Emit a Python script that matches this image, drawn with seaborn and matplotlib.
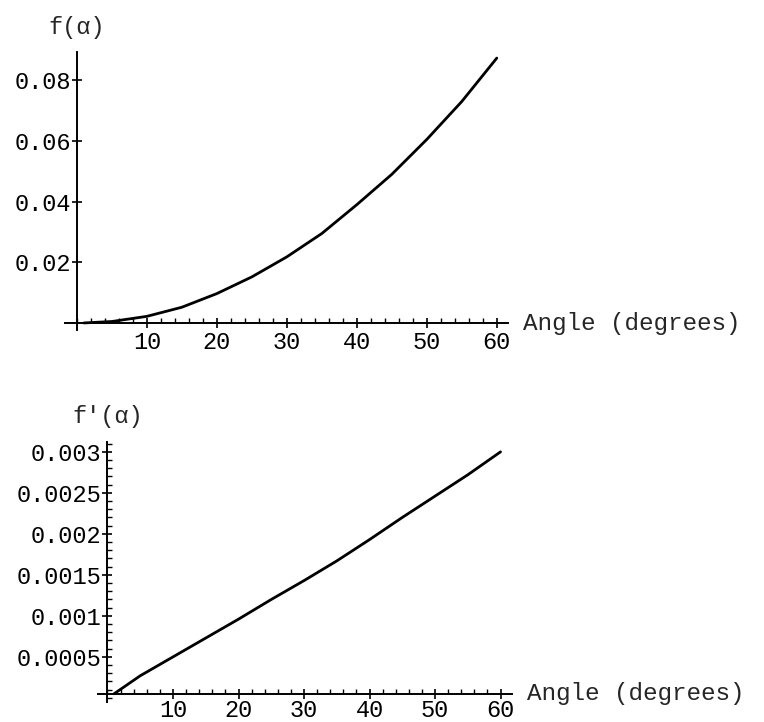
import numpy as np
import pandas as pd
import seaborn as sns
import matplotlib
matplotlib.use("Agg")
import matplotlib.pyplot as plt
from matplotlib.ticker import MultipleLocator

# ---- data ----
angle = [1, 5, 10, 15, 20, 25, 30, 35, 40, 45, 50, 55, 60]
f_vals = [0.00002, 0.0005, 0.0022, 0.0052, 0.0097, 0.0152, 0.0218,
          0.0295, 0.0390, 0.0490, 0.0605, 0.0730, 0.0873]
fp_vals = [0.00005, 0.00027, 0.0005, 0.00073, 0.00096, 0.0012, 0.00143,
           0.00167, 0.00193, 0.0022, 0.00246, 0.00272, 0.0030]

x_ticks = [10, 20, 30, 40, 50, 60]
top_y_ticks = [0.02, 0.04, 0.06, 0.08]
top_y_labels = ["0.02", "0.04", "0.06", "0.08"]
bot_y_ticks = [0.0005, 0.001, 0.0015, 0.002, 0.0025, 0.003]
bot_y_labels = ["0.0005", "0.001", "0.0015", "0.002", "0.0025", "0.003"]
x_label = "Angle (degrees)"
top_label = "f(α)"
bot_label = "f'(α)"

sns.set_style("white")
plt.rcParams["font.family"] = ["Liberation Mono", "DejaVu Sans Mono"]
FS = 17

W, H = 764, 722
fig = plt.figure(figsize=(W / 100, H / 100), dpi=100)
fig.patch.set_facecolor("white")


def px_axes(l, t, r, b):
    return fig.add_axes([l / W, 1 - b / H, (r - l) / W, (b - t) / H])


df = pd.DataFrame({"angle": angle, "f": f_vals, "fp": fp_vals})

ax1 = px_axes(65, 52, 508, 330)
ax2 = px_axes(98, 442, 512, 702)

sns.lineplot(data=df, x="angle", y="f", ax=ax1, color="black", lw=2)
sns.lineplot(data=df, x="angle", y="fp", ax=ax2, color="black", lw=2)

ax1.set_xlim(-1.7, 61.6)
ax1.set_ylim(-0.0023, 0.0893)
ax2.set_xlim(-1.45, 61.75)
ax2.set_ylim(-0.00005, 0.00312)

for ax, xaxis_y, yt, yl, lab, minor_y, xpad in [
    (ax1, 0.0, top_y_ticks, top_y_labels, top_label, None, 2),
    (ax2, 0.00005, bot_y_ticks, bot_y_labels, bot_label, 0.0001, 0),
]:
    ax.set_facecolor("white")
    ax.set_xlabel("")
    ax.set_ylabel("")
    ax.spines["top"].set_visible(False)
    ax.spines["right"].set_visible(False)
    ax.spines["left"].set_position(("data", 0))
    ax.spines["bottom"].set_position(("data", xaxis_y))
    for s in ("left", "bottom"):
        ax.spines[s].set_color("black")
        ax.spines[s].set_linewidth(1.4)
    ax.set_xticks(x_ticks)
    ax.set_xticklabels([str(v) for v in x_ticks])
    ax.xaxis.set_minor_locator(MultipleLocator(2))
    ax.set_yticks(yt)
    ax.set_yticklabels(yl)
    if minor_y:
        ax.yaxis.set_minor_locator(MultipleLocator(minor_y))
    ax.tick_params(which="major", direction="inout", length=7, width=1.2,
                   color="black", labelsize=FS, labelcolor="black")
    ax.tick_params(axis="x", which="major", pad=xpad)
    ax.tick_params(axis="y", which="major", pad=1)
    ax.tick_params(which="minor", direction="in", length=3.5, width=1,
                   color="black")
    ax.tick_params(bottom=True, left=True, which="both")
    ax.annotate(x_label, xy=(1, xaxis_y), xycoords=("axes fraction", "data"),
                xytext=(15, 0), textcoords="offset pixels", ha="left",
                va="center", fontsize=FS + 0.5, annotation_clip=False)
    ax.annotate(lab, xy=(0, 1), xycoords=("data", "axes fraction"),
                xytext=(0, 25), textcoords="offset pixels", ha="center",
                va="center", fontsize=FS, annotation_clip=False)

fig.savefig("out.png", dpi=100, facecolor="white")
